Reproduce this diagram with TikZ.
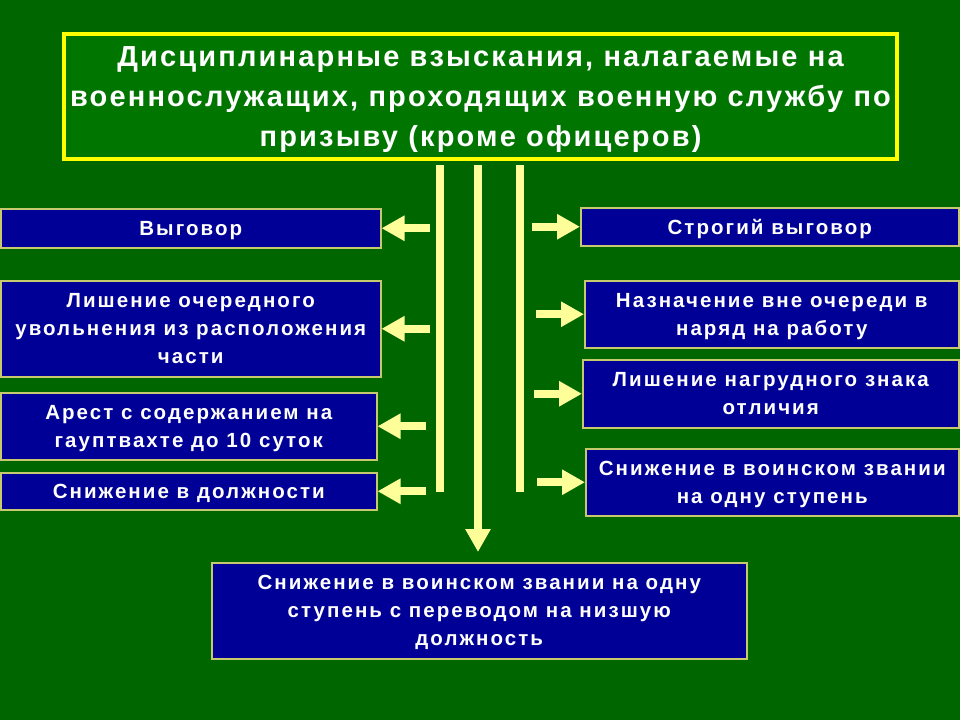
\documentclass[tikz,border=0pt]{standalone}
\usepackage{fontspec}
\setmainfont{Liberation Sans}
\newfontfamily\blokfont[LetterSpace=10]{Liberation Sans}
\newfontfamily\zagfont[LetterSpace=7.5]{Liberation Sans}
\usepackage{xcolor}
\usepackage{tikz}
\usetikzlibrary{arrows.meta, positioning}

\definecolor{fon}{RGB}{0,102,0}
\definecolor{zelenyj}{RGB}{0,118,0}
\definecolor{sinij}{RGB}{0,0,150}
\definecolor{kant}{RGB}{200,200,110}
\definecolor{zheltyj}{RGB}{255,255,0}
\definecolor{svetlyj}{RGB}{255,255,153}

\begin{document}
\begin{tikzpicture}[
		    x=1pt, y=-1pt,
		    every node/.style={inner sep=0pt, align=center, text=white, text depth=0pt},
		    blok/.style={draw=kant, line width=1.5pt, fill=sinij, anchor=north west,
		        font=\blokfont\bfseries\fontsize{20.5}{28}\selectfont}
		]
		\tikzset{
		    zagolovok/.style={draw=zheltyj, line width=4pt, fill=zelenyj, anchor=north west,
		        font=\zagfont\bfseries\fontsize{29}{40}\selectfont},
		    liniya/.style={draw=svetlyj, line width=8pt},
		    strelka/.style={liniya, -{Triangle[width=24pt, length=23pt]}}
		}
		\fill[fon] (0,0) rectangle (960,720);
		% zagolovok
		\node[zagolovok, minimum width=833pt, minimum height=125pt] (zag) at (62,32)
		  {Дисциплинарные взыскания, налагаемые на\\
		   военнослужащих, проходящих военную службу по\\
		   призыву (кроме офицеров)};
		% levaya storona
		\node[blok, minimum width=380pt, minimum height=39pt] (vygovor) at (0,208) {Выговор};
		\node[blok, minimum width=380pt, minimum height=96pt] (lishenie) at (0,280)
		  {Лишение очередного\\ увольнения из расположения\\ части};
		\node[blok, minimum width=376pt, minimum height=67pt] (arest) at (0,392)
		  {Арест с содержанием на\\ гауптвахте до 10 суток};
		\node[blok, minimum width=376pt, minimum height=37pt] (dolzhnost) at (0,472)
		  {Снижение в должности};
		% pravaya storona
		\node[blok, minimum width=378pt, minimum height=38pt] (strogij) at (580,207)
		  {Строгий выговор};
		\node[blok, minimum width=374pt, minimum height=67pt] (naryad) at (584,280)
		  {Назначение вне очереди в\\ наряд на работу};
		\node[blok, minimum width=376pt, minimum height=68pt] (znak) at (582,359)
		  {Лишение нагрудного знака\\ отличия};
		\node[blok, minimum width=373pt, minimum height=67pt] (zvanie) at (585,448)
		  {Снижение в воинском звании\\ на одну ступень};
		% vnizu
		\node[blok, minimum width=535pt, minimum height=96pt] (nizshaya) at (211,562)
		  {Снижение в воинском звании на одну\\ ступень с переводом на низшую\\ должность};
		% vertikalnye linii
		\coordinate (l1) at (440,165);
		\coordinate (l2) at (478,165);
		\coordinate (l3) at (520,165);
		\draw[liniya] (l1) -- ++(0,327);
		\draw[liniya] (l3) -- ++(0,327);
		\draw[strelka] (l2) -- ([yshift=10pt]nizshaya.north -| l2);
		% strelki
		\foreach \n in {vygovor, lishenie, arest, dolzhnost}
		  \draw[strelka] ([xshift=48pt]\n.east) -- (\n.east);
		\foreach \n in {strogij, naryad, znak, zvanie}
		  \draw[strelka] ([xshift=-48pt]\n.west) -- (\n.west);
		\end{tikzpicture}
\end{document}
